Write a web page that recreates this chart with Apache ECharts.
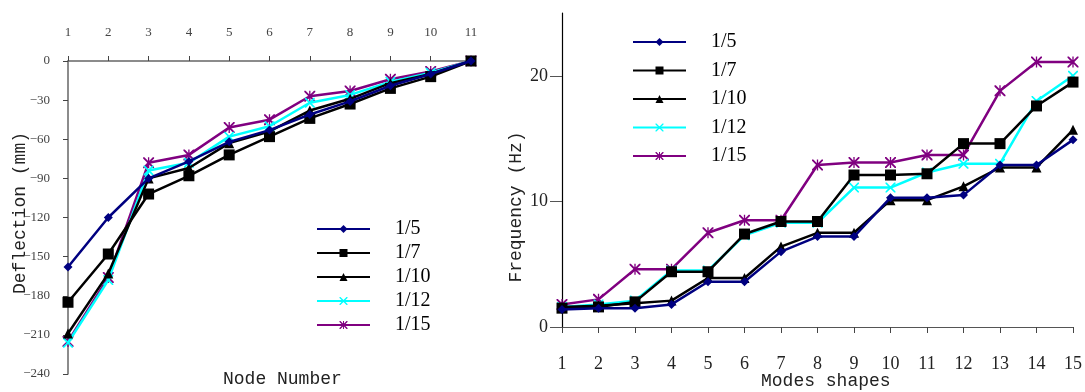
<!DOCTYPE html>
<html>
<head>
<meta charset="utf-8">
<script src="https://cdn.jsdelivr.net/npm/echarts@6/dist/echarts.min.js"></script>
<style>
  html, body { margin: 0; padding: 0; background: #fff; }
  #main { width: 1085px; height: 392px; }
</style>
</head>
<body>
<div id="main"></div>
<script>
// 左图：挠度 vs 节点
var nodes = [1, 2, 3, 4, 5, 6, 7, 8, 9, 10, 11];
var defl_5  = [-158, -120, -90, -77, -62, -53, -41, -31, -19, -10, 0];
var defl_7  = [-185, -148, -102, -88, -72, -58, -44, -33, -21, -12, 0];
var defl_10 = [-209, -163, -90, -82, -63, -54, -38, -29, -17, -10, 0];
var defl_12 = [-216, -168, -84, -78, -58, -50, -32, -26, -16, -9, 0];
var defl_15 = [-215, -166, -78, -72, -51, -45, -27, -23, -14, -8, 0];

// 右图：频率 vs 模态
var modes = [1, 2, 3, 4, 5, 6, 7, 8, 9, 10, 11, 12, 13, 14, 15];
var freq_5  = [1.4, 1.5, 1.5, 1.8, 3.6, 3.6, 6.0, 7.2, 7.2, 10.3, 10.3, 10.5, 12.9, 12.9, 14.9];
var freq_7  = [1.5, 1.6, 2.0, 4.4, 4.4, 7.4, 8.4, 8.4, 12.1, 12.1, 12.2, 14.6, 14.6, 17.6, 19.5];
var freq_10 = [1.6, 1.7, 1.9, 2.1, 3.9, 3.9, 6.4, 7.5, 7.5, 10.1, 10.1, 11.2, 12.7, 12.7, 15.7];
var freq_12 = [1.6, 1.8, 2.1, 4.5, 4.5, 7.3, 8.3, 8.3, 11.1, 11.1, 12.3, 13.0, 13.0, 18.0, 20.0];
var freq_15 = [1.8, 2.2, 4.6, 4.6, 7.5, 8.5, 8.5, 12.9, 13.1, 13.1, 13.7, 13.7, 18.8, 21.1, 21.1];

var names = ['1/5', '1/7', '1/10', '1/12', '1/15'];
var colors = ['#000080', '#000000', '#000000', '#00ffff', '#800080'];

var xPath = 'path://M0,0L1.2,0L5,3.8L8.8,0L10,0L10,1.2L6.2,5L10,8.8L10,10L8.8,10L5,6.2L1.2,10L0,10L0,8.8L3.8,5L0,1.2Z';
var starPath = 'path://M0,0L1.2,0L5,3.8L8.8,0L10,0L10,1.2L6.2,5L10,8.8L10,10L8.8,10L5,6.2L1.2,10L0,10L0,8.8L3.8,5L0,1.2Z M4.4,0L5.6,0L5.6,10L4.4,10Z';
var symbols = ['diamond', 'rect', 'triangle', xPath, starPath];
var sizes = [9, 11, 10, 10, 11];

var serif = '"Liberation Serif", "Times New Roman", serif';
var mono = '"Liberation Mono", "DejaVu Sans Mono", monospace';

function pairs(xs, ys) {
  return xs.map(function (x, i) { return [x, ys[i]]; });
}

function makeSeries(data, gridIdx) {
  return data.map(function (d, i) {
    return {
      name: names[i],
      type: 'line',
      xAxisIndex: gridIdx,
      yAxisIndex: gridIdx,
      data: d,
      symbol: symbols[i],
      symbolSize: sizes[i],
      lineStyle: { color: colors[i], width: 2.5 },
      itemStyle: { color: colors[i] },
      z: 10 - i,
      animation: false
    };
  });
}

function makeLegend(left, top, gap) {
  return {
    orient: 'vertical',
    left: left,
    top: top,
    itemWidth: 53,
    itemHeight: 10,
    itemGap: gap,
    textStyle: { fontFamily: serif, fontSize: 20, color: '#000', lineHeight: 18, padding: [0, 0, 0, 20] },
    data: names.map(function (n) { return { name: n }; })
  };
}

var leftData = [defl_5, defl_7, defl_10, defl_12, defl_15].map(function (d) { return pairs(nodes, d); });
var rightData = [freq_5, freq_7, freq_10, freq_12, freq_15].map(function (d) { return pairs(modes, d); });

var chart = echarts.init(document.getElementById('main'));
chart.setOption({
  animation: false,
  grid: [
    { left: 68, top: 61, width: 403, height: 313 },
    { left: 562, top: 13, width: 511, height: 314 }
  ],
  legend: [
    makeLegend(311, 214, 4),
    makeLegend(627, 27, 8.5)
  ],
  xAxis: [
    {
      gridIndex: 0, type: 'value', position: 'top', min: 1, max: 11, interval: 1,
      axisLine: { onZero: false, lineStyle: { color: '#666', width: 1.5 } },
      axisTick: { length: 5, lineStyle: { color: '#444' } },
      axisLabel: { fontFamily: serif, fontSize: 13, color: '#444', margin: 22 },
      splitLine: { show: false }
    },
    {
      gridIndex: 1, type: 'value', min: 1, max: 15, interval: 1,
      axisLine: { onZero: false, lineStyle: { color: '#555', width: 1.2 } },
      axisTick: { length: 6, lineStyle: { color: '#444' } },
      axisLabel: { fontFamily: serif, fontSize: 18, color: '#222', margin: 28 },
      splitLine: { show: false }
    }
  ],
  yAxis: [
    {
      gridIndex: 0, type: 'value', min: -240, max: 0, interval: 30,
      axisLine: { show: true, onZero: false, lineStyle: { color: '#666', width: 1.5 } },
      axisTick: { show: true, length: 5, lineStyle: { color: '#444' } },
      axisLabel: {
        fontFamily: serif, fontSize: 13, color: '#444', margin: 18,
        formatter: function (v) { return String(v).replace('-', '\u2212'); }
      },
      splitLine: { show: false }
    },
    {
      gridIndex: 1, type: 'value', min: 0, max: 25,
      axisLine: { show: true, onZero: false, lineStyle: { color: '#000', width: 1.2 } },
      axisTick: { show: true, length: 12, customValues: [0, 10, 20], lineStyle: { color: '#555' } },
      axisLabel: { fontFamily: serif, fontSize: 18, color: '#222', margin: 14, customValues: [0, 10, 20] },
      splitLine: { show: false }
    }
  ],
  graphic: [
    { type: 'text', left: 223, top: 370, style: { text: 'Node Number', font: '18px ' + mono, fill: '#222' } },
    { type: 'text', x: 20, y: 213, rotation: Math.PI / 2, style: { text: 'Deflection (mm)', font: '18px ' + mono, fill: '#222', align: 'center', verticalAlign: 'middle' } },
    { type: 'text', left: 761, top: 372, style: { text: 'Modes shapes', font: '18px ' + mono, fill: '#222' } },
    { type: 'text', x: 516, y: 207, rotation: Math.PI / 2, style: { text: 'Frequency (Hz)', font: '18px ' + mono, fill: '#222', align: 'center', verticalAlign: 'middle' } }
  ],
  series: makeSeries(leftData, 0).concat(makeSeries(rightData, 1))
});
</script>
</body>
</html>
